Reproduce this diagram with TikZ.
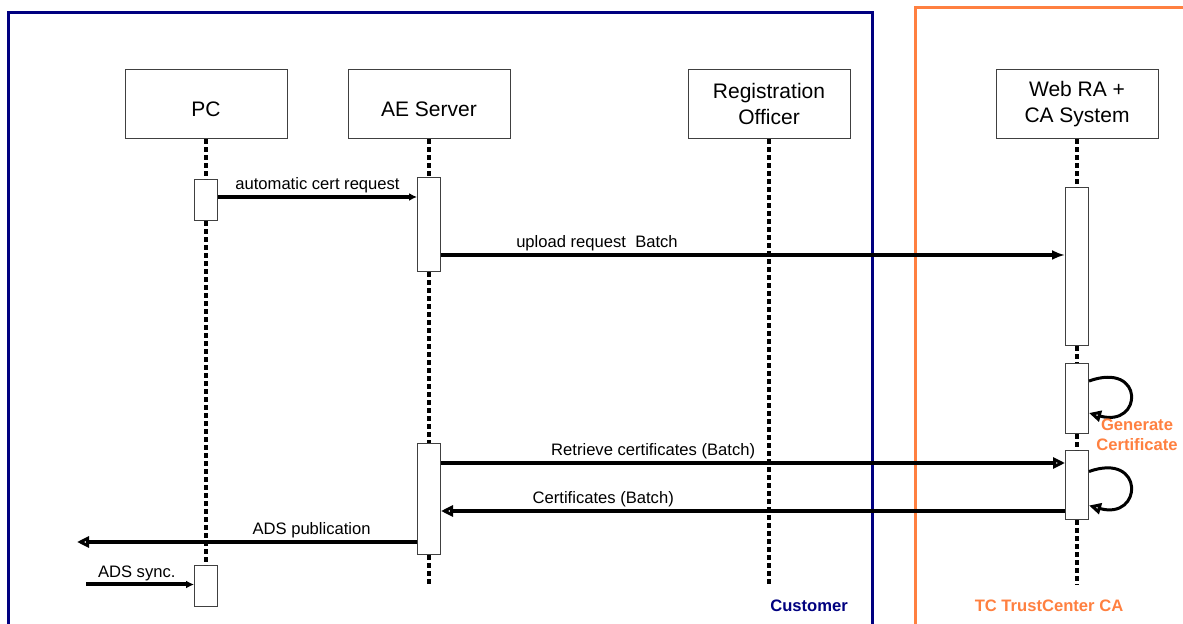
\documentclass[tikz,border=0pt]{standalone}
\usepackage{fontspec}
\setmainfont{Liberation Sans}
\usetikzlibrary{arrows.meta,positioning}
\definecolor{CustNavy}{RGB}{0,0,128}
\definecolor{TcOrange}{RGB}{255,128,64}

\begin{document}
\begin{tikzpicture}[
    x=0.5pt, y=-0.5pt, node distance=20pt and 30pt,
    head/.style={draw=black!75, line width=0.5pt, fill=white, align=center,
                 minimum width=81pt, minimum height=34.5pt, inner sep=2pt,
                 font=\fontsize{10.5}{13}\selectfont},
    act/.style={draw=black!75, line width=0.5pt, fill=white,
                minimum width=11.5pt, inner sep=0pt},
    life/.style={line width=2.3pt, dash pattern=on 2.3pt off 1.7pt},
    msg/.style={-{Latex[length=6.5pt,width=5pt]}, line width=2pt},
    rep/.style={-{Triangle[open,length=6pt,width=5.5pt]}, line width=2pt},
    lbl/.style={above, inner sep=1pt, font=\fontsize{8.3}{10}\selectfont},
    frm/.style={line width=1.5pt},
    orn/.style={text=TcOrange, align=center,
                font=\fontsize{8.3}{10}\selectfont\bfseries}
  ]
    \clip (0,0) rectangle (1183,624);
    \draw[frm, CustNavy] (8,13) rectangle (872,660);
    \draw[frm, TcOrange] (915,8) rectangle (1220,660);

    \node[head, text height=12.5pt] (pc) at (206,104.5) {PC};
    \node[head, text height=12.5pt, right=of pc] (ae) {AE Server};
    \node[head, right=88.5pt of ae] (ro) {Registration\\Officer};
    \node[head, right=72.5pt of ro] (ca) {Web RA +\\CA System};

    \node[act, minimum height=20.5pt, below=of pc] (pcA1) {};
    \node[act, minimum height=47pt, below=19pt of ae] (aeA1) {};
    \node[act, minimum height=79pt, below=24pt of ca] (caA1) {};
    \node[act, minimum height=35pt, below=8.5pt of caA1] (caA2) {};
    \node[act, minimum height=34.5pt, below=8pt of caA2] (caA3) {};
    \node[act, minimum height=55.5pt, below=85.5pt of aeA1] (aeA2) {};
    \node[act, minimum height=20.5pt, below=172pt of pcA1] (pcA2) {};

    \coordinate (aeE) at (ae |- 0,587);
    \coordinate (roE) at (ro |- 0,585);
    \coordinate (caE) at (ca |- 0,585);
    \foreach \a/\b in {pc.south/pcA1.north, pcA1.south/pcA2.north,
                       ae.south/aeA1.north, aeA1.south/aeA2.north, aeA2.south/aeE,
                       ro.south/roE,
                       ca.south/caA1.north, caA1.south/caA2.north,
                       caA2.south/caA3.north, caA3.south/caE}
      \draw[life] (\a) -- (\b);

    \coordinate (req) at ([yshift=1.75pt]pcA1.east);
    \draw[msg, -{Latex[length=4pt,width=4pt]}] (req) -- node[lbl]{automatic cert request} (req -| aeA1.west);
    \coordinate (up) at ([yshift=-15pt]aeA1.east);
    \draw[msg] (up) -- node[lbl, pos=.25]{upload request\ \ Batch} (up -| caA1.west);
    \coordinate (ret) at ([yshift=18.25pt]aeA2.east);
    \draw[rep] (ret) -- node[lbl, pos=.34]{Retrieve certificates (Batch)} (ret -| caA3.west);
    \coordinate (crt) at ([yshift=-12.75pt]caA3.west);
    \draw[rep] (crt) -- node[lbl, pos=.74]{Certificates (Batch)} (crt -| aeA2.east);
    \coordinate (pub) at ([yshift=-21.25pt]aeA2.west);
    \coordinate (pubE) at (77,542);
    \draw[rep] (pub) -- node[lbl, pos=.31]{ADS publication} (pub -| pubE);
    \coordinate (sync) at (86,584.5);
    \draw[msg, -{Latex[length=4pt,width=4pt]}] (sync) -- node[lbl, pos=.47]{ADS sync.} (sync -| pcA2.west);

    \draw[rep, line width=1.5pt] ([yshift=9pt]caA2.east) .. controls +(56,-20) and +(54,15) .. ([yshift=-7pt]caA2.east);
    \draw[rep, line width=1.5pt] ([yshift=7pt]caA3.east) .. controls +(56,-20) and +(54,15) .. ([yshift=-10pt]caA3.east);

    \node[orn] (gen) at (1137,435) {Generate\\Certificate};
    \node[orn, text=CustNavy] (cust) at (809,606) {Customer};
    \node[orn] (tc) at (1049,606) {TC TrustCenter CA};
  \end{tikzpicture}
\end{document}
